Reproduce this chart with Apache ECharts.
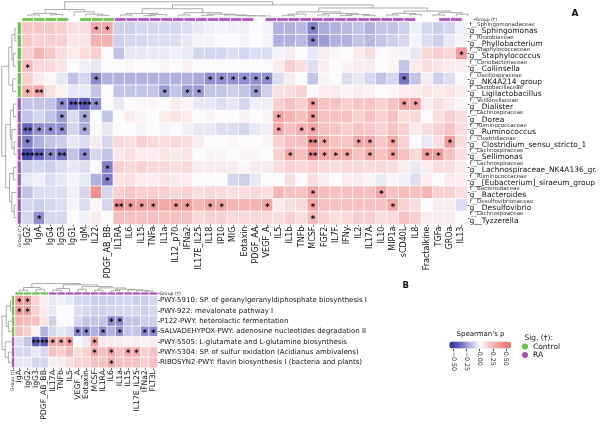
<!DOCTYPE html>
<html><head><meta charset="utf-8">
<script src="https://cdn.jsdelivr.net/npm/echarts@6/dist/echarts.min.js"></script>
<style>html,body{margin:0;padding:0;background:#fff}#c{width:600px;height:428px}</style>
</head><body><div id="c"></div>
<script>
// ---------------- DATA: panel A ----------------
const cytokinesA = ['IgG2','IgA','IgG4','IgG3','IgG1','IgM','IL22','PDGF_AB_BB','IL1RA','IL6','IL15','TNFa','IL1a','IL12_p70','IFNa2','IL17E_IL25','IL18','IP10','MIG','Eotaxin','PDGF_AA','VEGF_A','IL5','IL1b','TNFb','MCSF','FGF2','IL7F','IFNy','IL2','IL17A','IL10','MIP1a','sCD40L','IL8','Fractalkine','TGFa','GROa','IL13'];
const familiesA = ['f__Sphingomonadaceae','f__Rhizobiaceae','f__Staphylococcaceae','f__Coriobacteriaceae','f__Oscillospiraceae','f__Lactobacillaceae','f__Veillonellaceae','f__Lachnospiraceae','f__Ruminococcaceae','f__Clostridiaceae','f__Lachnospiraceae','f__Lachnospiraceae','f__Ruminococcaceae','f__Bacteroidaceae','f__Desulfovibrionaceae','f__Lachnospiraceae'];
const generaA = ['g__Sphingomonas','g__Phyllobacterium','g__Staphylococcus','g__Collinsella','g__NK4A214_group','g__Ligilactobacillus','g__Dialister','g__Dorea','g__Ruminococcus','g__Clostridium_sensu_stricto_1','g__Sellimonas','g__Lachnospiraceae_NK4A136_gr.','g__[Eubacterium]_siraeum_group','g__Bacteroides','g__Desulfovibrio','g__Tyzzerella'];
const rhoA = [
 [0.18,0.18,0.17,0.15,0.1,0.1,0.3,0.3, -0.12,-0.12,-0.1,-0.1,-0.1,-0.1,-0.08, -0.05,-0.03,-0.02,-0.03,-0.03,0,-0.02, -0.2,-0.2,-0.18,-0.32,-0.22,-0.2,-0.18,-0.15,-0.2,-0.15,-0.15,-0.12, -0.03,-0.1,-0.12,-0.1,-0.03],
 [0.18,0.15,0.15,0.15,0.07,0.07,0.27,0.27, -0.12,-0.1,-0.1,-0.08,-0.08,-0.08,-0.05, -0.02,-0.02,0,0,-0.02,0,-0.02, -0.2,-0.2,-0.18,-0.3,-0.25,-0.2,-0.2,-0.15,-0.18,-0.15,-0.12,-0.1, -0.02,-0.08,-0.12,-0.05,-0.02],
 [0.15,0.25,0.18,0.1,0.05,0.1,0.15,0, -0.15,-0.05,-0.05,-0.05,-0.05,-0.03,-0.05, -0.1,-0.1,-0.1,-0.08,-0.1,-0.08,-0.08, -0.02,0.05,0,-0.05,0.05,0.02,0,0.05,0.1,0,0.02,-0.02, -0.05,0.12,0.15,0.12,0.35],
 [0.22,0.12,0.12,0.08,0,-0.03,-0.05,0, 0,0.02,0,0,0.02,0,0.03, 0,0,0,0,0,0,0, 0.05,0.15,0.1,-0.08,0.05,0,0.03,0.05,0.05,0,0.03,-0.15, 0.05,0.1,0.08,0.05,0.05],
 [0.15,0.05,0.02,-0.05,-0.15,-0.1,-0.3,-0.2, -0.2,-0.2,-0.2,-0.2,-0.2,-0.2,-0.2, -0.22,-0.28,-0.28,-0.28,-0.28,-0.28,-0.28, -0.08,0.05,0,-0.15,0.03,0,-0.08,-0.05,-0.1,-0.15,-0.1,-0.35, -0.15,0.05,-0.12,-0.08,0],
 [0.25,0.3,0.1,0.03,-0.05,-0.05,-0.15,0, -0.15,-0.15,-0.15,-0.15,-0.25,-0.15,-0.25, -0.25,-0.15,-0.15,-0.12,-0.15,-0.25,-0.12, 0.1,0.1,0.15,0,0.05,0.05,0.02,0.05,0.03,0,0.02,0.05, 0.05,0.08,0.05,0.08,0.05],
 [-0.15,-0.15,-0.15,-0.28,-0.38,-0.42,-0.28,0, -0.05,0,0.02,0.02,0,0.05,0.02, -0.05,-0.05,-0.08,-0.05,-0.1,-0.03,-0.03, 0.15,0.2,0.15,0.32,0.2,0.2,0.15,0.18,0.2,0.15,0.2,0.3, 0.32,0.05,0.1,0.05,0.02],
 [-0.15,-0.1,-0.15,-0.25,-0.08,-0.22,0,-0.15, 0,0.05,0.02,0,0.05,0.08,0.05, 0,0.02,0,0,0.03,0,0.02, 0.32,0.25,0.2,0.35,0.2,0.2,0.2,0.15,0.2,0.15,0.2,0.1, 0.12,0,0.1,0.15,0.1],
 [-0.38,-0.28,-0.28,-0.28,-0.1,-0.22,0,-0.05, 0,0,-0.02,0,-0.02,0,-0.03, -0.05,-0.05,-0.08,-0.08,-0.1,-0.05,-0.03, 0.3,0.2,0.28,0.32,0.2,0.2,0.15,0.2,0.18,0.15,0.2,0.15, 0.05,0.1,0.15,0.2,0.1],
 [-0.32,-0.2,-0.15,-0.12,-0.05,-0.08,0.05,-0.1, 0.12,0.1,0.15,0.12,0.1,0.12,0.1, 0.05,0,0,0.02,0,0,0.02, 0.15,0.2,0.2,0.42,0.3,0.2,0.18,0.3,0.3,0.18,0.3,0.15, 0,-0.05,0.1,0.35,0.1],
 [-0.48,-0.38,-0.3,-0.35,-0.15,-0.28,-0.1,-0.15, 0.05,0.1,0.05,0.05,0.08,0.05,0.08, 0,0.02,0.02,0,0.02,0.02,0, 0.15,0.3,0.22,0.42,0.32,0.3,0.3,0.2,0.3,0.2,0.32,0.2, 0.12,0.35,0.35,0.2,0.1],
 [-0.12,-0.1,-0.12,-0.08,-0.05,-0.08,0,-0.32, 0.15,0.12,0.15,0.12,0.12,0.1,0.12, 0.05,0.05,0.05,0.05,0.02,0.05,0.05, 0.1,0.15,0.12,0.15,0.12,0.1,0.12,0.12,0.1,0.12,0.1,0.05, -0.05,0.05,0.1,0.1,0.05],
 [-0.05,-0.03,-0.08,-0.05,-0.02,-0.05,-0.2,-0.32, 0.08,0.1,0.05,0.05,0.08,0.05,0.05, 0,0,0,-0.1,-0.12,-0.05,0, 0,0.1,0,0.1,0.05,0,0.05,0.05,0.02,-0.05,0.02,-0.03, -0.08,0.05,0,0.05,0.05],
 [-0.15,-0.08,-0.08,-0.08,-0.03,-0.1,0.4,-0.1, 0.15,0.18,0.15,0.15,0.15,0.12,0.15, 0.1,0.12,0.12,0.1,0.1,0.12,0.1, 0.25,0.2,0.2,0.32,0.22,0.2,0.2,0.22,0.2,0.32,0.2,0.22, 0.2,0.25,0.15,0.15,0.1],
 [-0.1,-0.12,-0.1,-0.08,-0.02,-0.08,0.02,-0.1, 0.4,0.35,0.35,0.35,0.3,0.35,0.35, 0.25,0.32,0.32,0.25,0.25,0.25,0.32, 0.05,0.1,0.12,0.32,0.2,0.2,0.2,0.2,0.2,0.2,0.32,0.15, 0.1,0,0.05,0.05,-0.08],
 [-0.1,-0.28,-0.1,-0.1,0,-0.03,0.05,0, 0.22,0.2,0.2,0.2,0.2,0.2,0.2, 0.12,0.15,0.15,0.12,0.12,0.12,0.12, 0.1,0.15,0.1,0.22,0.15,0.1,0.12,0.15,0.15,0.1,0.12,0.2, 0.15,0.05,0.05,0.05,0]
];
// significance marks: [row, column, stars] (0-based)
const sigA = [
 [0,6,'*'],[0,7,'*'],[0,25,'*'],
 [1,25,'*'],
 [2,38,'*'],
 [3,0,'*'],
 [4,6,'*'],[4,16,'*'],[4,17,'*'],[4,18,'*'],[4,19,'*'],[4,20,'*'],[4,21,'*'],[4,33,'*'],
 [5,0,'*'],[5,1,'**'],[5,12,'*'],[5,14,'*'],[5,15,'*'],[5,20,'*'],
 [6,3,'*'],[6,4,'**'],[6,5,'***'],[6,6,'*'],[6,25,'*'],[6,33,'*'],[6,34,'*'],
 [7,3,'*'],[7,5,'*'],[7,22,'*'],[7,25,'*'],
 [8,0,'**'],[8,1,'*'],[8,2,'*'],[8,3,'*'],[8,5,'*'],[8,22,'*'],[8,24,'*'],[8,25,'*'],
 [9,0,'*'],[9,25,'**'],[9,26,'*'],[9,29,'*'],[9,30,'*'],[9,32,'*'],[9,37,'*'],
 [10,0,'***'],[10,1,'**'],[10,2,'*'],[10,3,'**'],[10,5,'*'],[10,23,'*'],[10,25,'**'],[10,26,'*'],[10,27,'*'],[10,28,'*'],[10,30,'*'],[10,32,'*'],[10,35,'*'],[10,36,'*'],
 [11,7,'*'],
 [12,7,'*'],
 [13,25,'*'],[13,31,'*'],
 [14,8,'**'],[14,9,'*'],[14,10,'*'],[14,11,'*'],[14,13,'*'],[14,14,'*'],[14,16,'*'],[14,17,'*'],[14,21,'*'],[14,25,'*'],[14,32,'*'],
 [15,1,'*'],[15,25,'*']
];
const colGroupA = ['Control','Control','Control','Control','','Control','Control','Control','RA','RA','RA','RA','RA','RA','RA','RA','RA','RA','RA','RA','','RA','RA','RA','RA','RA','RA','RA','RA','RA','RA','RA','RA','RA','','','RA','RA',''];
const rowGroupA = ['Control','Control','Control','Control','Control','Control','RA','RA','RA','RA','RA','RA','RA','RA','RA','RA'];
// dendrograms: [height, left, right], leaves = index
const colTreeA = [0.95,
  [0.45,[0.2,[0.1,0,1],[0.12,2,3]],[0.3,4,[0.15,5,[0.08,6,7]]]],
  [0.75,
    [0.5,[0.2,[0.1,8,9],[0.12,[0.05,10,11],12]],[0.25,[0.1,13,14],[0.15,[0.08,15,16],[0.1,17,[0.05,18,[0.04,19,[0.03,20,21]]]]]]],
    [0.55,[0.3,[0.15,[0.08,22,23],24],[0.2,[0.1,25,26],[0.12,[0.06,27,28],[0.08,29,30]]]],[0.35,[0.2,[0.1,31,32],[0.12,33,34]],[0.25,[0.1,35,36],[0.15,37,38]]]]]];
const rowTreeA = [0.95,
  [0.5,[0.3,[0.1,0,1],[0.2,2,3]],[0.25,4,5]],
  [0.7,[0.4,[0.2,6,7],[0.3,8,[0.15,9,10]]],[0.45,[0.2,11,12],[0.3,13,[0.15,14,15]]]]];

// ---------------- DATA: panel B ----------------
const cytokinesB = ['IgA','IgG2','IgG3','PDGF_AB_BB','IL17A','TNFb','IL5','VEGF_A','Eotaxin','MCSF','IL1RA','IL6','IL1a','IL15','IL17E_IL25','IFNa2','FLT3L'];
const pathwaysB = ['PWY-5910: SP. of geranylgeranyldiphosphate biosynthesis I','PWY-922: mevalonate pathway I','P122-PWY: heterolactic fermentation','SALVADEHYPOX-PWY: adenosine nucleotides degradation II','PWY-5505: L-glutamate and L-glutamine biosynthesis','PWY-5304: SP. of sulfur oxidation (Acidianus ambivalens)','RIBOSYN2-PWY: flavin biosynthesis I (bacteria and plants)'];
const rhoB = [
 [0.35,0.35,0.15,0.05,-0.05,-0.03,-0.05,-0.1,-0.1,-0.12,-0.12,-0.12,-0.1,-0.1,-0.12,-0.12,-0.1],
 [0.35,0.35,0.15,0.05,-0.05,0,0,-0.08,-0.1,-0.12,-0.12,-0.1,-0.1,-0.1,-0.1,-0.12,-0.1],
 [0.25,0.22,0.2,0.08,-0.12,0,0,-0.1,-0.15,-0.15,-0.15,-0.3,-0.3,-0.15,-0.15,-0.12,-0.12],
 [0.2,0.15,0.03,-0.2,-0.1,-0.05,-0.08,-0.3,-0.3,-0.2,-0.3,-0.2,-0.3,-0.15,-0.15,-0.3,-0.3],
 [-0.08,-0.15,-0.42,-0.42,0.32,0.32,0.38,0,-0.05,0.35,0.05,0.05,0.05,0.03,0.05,0.03,0.05],
 [-0.1,-0.1,-0.05,-0.1,0.2,0.15,0.25,0.1,0.15,0.3,0.2,0.32,0.2,0.3,0.3,0.15,0.2],
 [-0.05,-0.05,-0.1,-0.1,0.05,0.05,0.1,0.15,0.15,0.2,0.2,0.3,0.2,0.2,0.2,0.15,0.2]
];
const sigB = [
 [0,0,'*'],[0,1,'*'],[1,0,'*'],[1,1,'*'],
 [2,11,'*'],[2,12,'*'],
 [3,7,'*'],[3,8,'*'],[3,10,'*'],[3,12,'*'],[3,15,'*'],[3,16,'*'],
 [4,2,'**'],[4,3,'**'],[4,4,'*'],[4,5,'*'],[4,6,'*'],[4,9,'*'],
 [5,9,'*'],[5,11,'*'],[5,13,'*'],[5,14,'*'],
 [6,11,'*']
];
const colGroupB = ['Control','Control','Control','Control','RA','RA','RA','RA','RA','RA','RA','RA','RA','RA','RA','RA','RA'];
const rowGroupB = ['Control','Control','Control','Control','RA','RA','RA'];
const colTreeB = [0.95,[0.5,[0.2,0,1],[0.3,2,3]],[0.8,[0.4,[0.2,4,5],6],[0.6,[0.3,7,8],[0.45,[0.2,9,10],[0.3,[0.15,11,12],[0.25,13,[0.15,14,[0.1,15,16]]]]]]]];
const rowTreeB = [0.9,[0.5,[0.1,0,1],[0.3,2,3]],[0.6,4,[0.3,5,6]]];

const groupNames = ['Control','RA'];
const rhoTicks = [-0.5,-0.25,0,0.25,0.5];
const rhoRange = [-0.585,0.585];

// ---------------- BUILD ----------------
const F = 'DejaVu Sans';
const groupColors = {Control:'#6abf4b', RA:'#a550b4'};
const grids=[], xAxes=[], yAxes=[], series=[], heatIdx=[];

function walk(node, segs){
  if (typeof node === 'number') return {x:node, h:0};
  const A = walk(node[1], segs), B = walk(node[2], segs), h = node[0];
  segs.push([[A.x,A.h],[A.x,h],[B.x,h],[B.x,B.h]]);
  return {x:(A.x+B.x)/2, h};
}
function tick(len){return {show:true, alignWithLabel:true, length:len, lineStyle:{color:'#222', width:0.7}};}
const hidden = {show:false};

function rectItem(params, api){
  const p = api.coord([api.value(0), api.value(1)]);
  const s = api.size([1,1]);
  return {type:'rect', shape:{x:p[0]-s[0]/2, y:p[1]-s[1]/2, width:s[0], height:s[1]},
          style:{fill:api.visual('color'), stroke:'#fff', lineWidth:0.6}};
}

function panel(p){
  const nC = p.cols.length, nR = p.rows.length;
  const W = nC*p.cw, H = nR*p.rh;
  // heatmap
  grids.push({left:p.left, top:p.top, width:W, height:H}); let gi = grids.length-1;
  xAxes.push({type:'category', gridIndex:gi, data:p.cols, position:'bottom', axisLine:{show:false}, axisTick:tick(2.5),
    axisLabel:{rotate:90, fontSize:p.xFont, margin:2.5, color:'#111', fontFamily:F, interval:0}, splitLine:hidden});
  yAxes.push({type:'category', gridIndex:gi, data:p.rows, inverse:true, position:'right', axisLine:{show:false}, axisTick:tick(2.5),
    axisLabel:Object.assign({margin:2.5, color:'#111', fontFamily:F, interval:0}, p.yLabel), splitLine:hidden});
  const data=[];
  p.rho.forEach((row,r)=>row.forEach((v,c)=>data.push([c,r,v,''])));
  p.sig.forEach(s=>{ data[s[0]*nC+s[1]][3]=s[2]; });
  series.push({type:'heatmap', xAxisIndex:xAxes.length-1, yAxisIndex:yAxes.length-1, data,
    itemStyle:{borderColor:'#fff', borderWidth:0.7},
    label:{show:true, formatter:q=>q.data[3], fontSize:p.starFont, fontWeight:'bold', color:'#000', fontFamily:F, offset:[0,p.starOff]},
    emphasis:{disabled:true}, silent:true});
  heatIdx.push(series.length-1);
  // column group bar
  grids.push({left:p.left, top:p.top-p.gGap-p.gh, width:W, height:p.gh}); gi = grids.length-1;
  xAxes.push({type:'category', gridIndex:gi, data:p.cols, show:false});
  yAxes.push({type:'category', gridIndex:gi, data:['Group (\u2020)'], position:'right', axisLine:{show:false}, axisTick:tick(2),
    axisLabel:{fontSize:4.6, margin:2, color:'#222', fontFamily:F}});
  groupNames.forEach(g=>{
    series.push({type:'custom', name:g, color:groupColors[g], xAxisIndex:xAxes.length-1, yAxisIndex:yAxes.length-1, silent:true,
      data:p.colGroup.map((v,i)=>v===g?[i,0]:null).filter(Boolean), renderItem:rectItem});
  });
  // row group bar
  grids.push({left:p.left-p.gGap-p.gw, top:p.top, width:p.gw, height:H}); gi = grids.length-1;
  xAxes.push({type:'category', gridIndex:gi, data:['Group (\u2020)'], position:'bottom', axisLine:{show:false}, axisTick:tick(2),
    axisLabel:{rotate:90, fontSize:4.6, margin:2, color:'#222', fontFamily:F}});
  yAxes.push({type:'category', gridIndex:gi, data:p.rows, inverse:true, show:false});
  groupNames.forEach(g=>{
    series.push({type:'custom', name:g, color:groupColors[g], xAxisIndex:xAxes.length-1, yAxisIndex:yAxes.length-1, silent:true,
      data:p.rowGroup.map((v,i)=>v===g?[0,i]:null).filter(Boolean), renderItem:rectItem});
  });
  // column dendrogram
  grids.push({left:p.left, top:p.dTop, width:W, height:p.dH}); gi = grids.length-1;
  xAxes.push({type:'value', gridIndex:gi, min:-0.5, max:nC-0.5, show:false});
  yAxes.push({type:'value', gridIndex:gi, min:0, max:1, show:false});
  let segs=[]; walk(p.colTree, segs);
  series.push({type:'lines', coordinateSystem:'cartesian2d', xAxisIndex:xAxes.length-1, yAxisIndex:yAxes.length-1, polyline:true, silent:true,
    lineStyle:{color:'#888', width:0.7, opacity:1}, data:segs.map(c=>({coords:c}))});
  // row dendrogram
  grids.push({left:p.dLeft, top:p.top, width:p.dW, height:H}); gi = grids.length-1;
  xAxes.push({type:'value', gridIndex:gi, min:0, max:1, inverse:true, show:false});
  yAxes.push({type:'value', gridIndex:gi, min:-0.5, max:nR-0.5, inverse:true, show:false});
  segs=[]; walk(p.rowTree, segs);
  series.push({type:'lines', coordinateSystem:'cartesian2d', xAxisIndex:xAxes.length-1, yAxisIndex:yAxes.length-1, polyline:true, silent:true,
    lineStyle:{color:'#888', width:0.7, opacity:1}, data:segs.map(c=>({coords:c.map(q=>[q[1],q[0]])}))});
}

panel({cols:cytokinesA, rows:generaA.map((g,i)=>i), rho:rhoA, sig:sigA, colGroup:colGroupA, rowGroup:rowGroupA, colTree:colTreeA, rowTree:rowTreeA,
  left:22, top:22, cw:11.58, rh:12.63, xFont:8, starFont:8.5, starOff:2.2,
  gGap:0.8, gh:3.4, gw:3.8, dTop:1, dH:15.5, dLeft:1, dW:15.5,
  yLabel:{formatter:v=>'{f|'+familiesA[v]+'}\n{g|'+generaA[v]+'}',
    rich:{f:{fontSize:5.5, lineHeight:5.8, color:'#333', fontFamily:F}, g:{fontSize:7.5, lineHeight:7.4, color:'#111', fontFamily:F}}}});

panel({cols:cytokinesB, rows:pathwaysB, rho:rhoB, sig:sigB, colGroup:colGroupB, rowGroup:rowGroupB, colTree:colTreeB, rowTree:rowTreeB,
  left:15.1, top:295.5, cw:8.375, rh:10.3, xFont:7.7, starFont:8, starOff:2,
  gGap:0.6, gh:2.8, gw:2.8, dTop:283, dH:9, dLeft:1, dW:10.5,
  yLabel:{fontSize:7}});

// colour bar tick axis
grids.push({left:453.3, top:348.3, width:52.7, height:0.5});
xAxes.push({type:'value', gridIndex:grids.length-1, min:rhoTicks[0], max:rhoTicks[rhoTicks.length-1], interval:0.25, position:'bottom',
  axisLine:{show:false}, axisTick:{show:true, length:2.5, lineStyle:{color:'#222', width:0.8}}, splitLine:hidden,
  axisLabel:{rotate:-90, fontSize:6.3, margin:3, color:'#222', fontFamily:F, formatter:v=>(v<0?'\u2212':'')+Math.abs(v).toFixed(2)}});
yAxes.push({type:'value', gridIndex:grids.length-1, show:false});

const chart = echarts.init(document.getElementById('c'), null, {renderer:'canvas'});
chart.setOption({
  animation:false,
  textStyle:{fontFamily:F},
  grid:grids, xAxis:xAxes, yAxis:yAxes, series,
  visualMap:[{type:'continuous', min:rhoRange[0], max:rhoRange[1], dimension:2, seriesIndex:heatIdx, orient:'horizontal',
    left:449.3, top:341.6, itemWidth:6.8, itemHeight:61.7, calculable:false, padding:0, hoverLink:false, text:null, showLabel:false,
    inRange:{color:['#2c2c95','#6666bd','#b3b3e0','#fbfbfd','#f8c2c2','#f19494','#ea6c6c']}}],
  legend:{data:groupNames.map(n=>({name:n, icon:'circle'})), orient:'vertical', left:522, top:342.6, itemWidth:6, itemHeight:6, itemGap:0.5,
    padding:0, selectedMode:false, textStyle:{fontSize:7.5, lineHeight:8, color:'#111', fontFamily:F}},
  title:[
    {text:'A', left:571.5, top:9.5, padding:0, textStyle:{fontSize:9, fontWeight:'bold', color:'#111', fontFamily:F}},
    {text:'B', left:402.5, top:281, padding:0, textStyle:{fontSize:8.5, fontWeight:'bold', color:'#111', fontFamily:F}},
    {text:"Spearman's \u03c1", left:456.5, top:331, padding:0, textStyle:{fontSize:7, fontWeight:'normal', color:'#111', fontFamily:F}},
    {text:'Sig. (\u2020):', left:524.5, top:334.5, padding:0, textStyle:{fontSize:7.5, fontWeight:'normal', color:'#111', fontFamily:F}}
  ]
});
</script></body></html>
